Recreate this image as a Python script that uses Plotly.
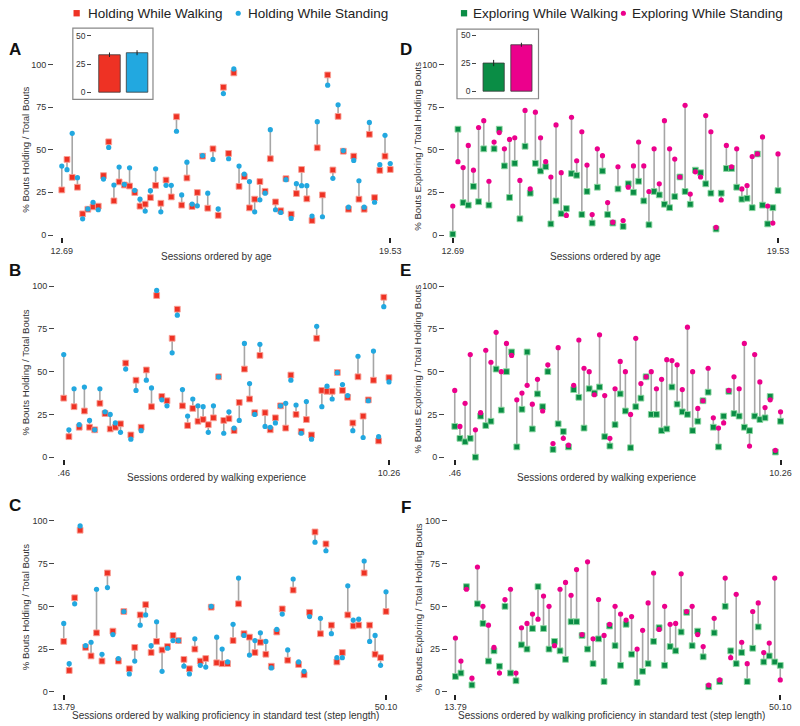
import plotly.graph_objects as go

# ---------------- data ----------------
A_walk = [26.4, 44.3, 33.8, 28.0, 12.4, 15.1, 16.5, 16.9, 34.8, 54.6, 20.0, 31.1, 29.3, 28.7, 24.9, 16.9, 18.1, 21.9, 29.1, 18.6,
          32.2, 22.3, 69.3, 17.5, 33.4, 16.7, 24.9, 46.2, 15.7, 50.5, 11.5, 86.6, 47.8, 95.0, 28.5, 34.2, 15.9, 21.0, 31.3, 25.6,
          44.7, 19.4, 14.2, 33.0, 12.2, 24.3, 38.4, 21.2, 8.5, 51.1, 23.5, 93.8, 38.1, 69.5, 49.1, 15.1, 46.2, 21.0, 15.1, 59.0,
          21.9, 37.9, 46.2, 38.4]
A_stand = [40.4, 38.3, 59.6, 33.6, 9.5, 15.3, 19.2, 14.8, 32.8, 51.3, 29.3, 39.8, 29.7, 39.4, 26.2, 21.0, 14.0, 26.0, 38.8, 13.6,
           29.1, 29.1, 60.8, 23.5, 42.7, 18.1, 17.1, 46.6, 24.5, 44.3, 15.3, 82.9, 44.7, 97.3, 40.4, 35.7, 31.3, 13.6, 20.6, 24.5,
           61.7, 14.8, 13.2, 32.4, 9.7, 30.1, 28.9, 28.9, 11.1, 66.4, 10.7, 87.8, 33.2, 76.3, 49.5, 16.3, 43.7, 31.8, 16.3, 66.0,
           19.2, 41.2, 58.4, 41.9]

B_walk = [34.5, 12, 29.5, 17.5, 27, 17.5, 16, 31.5, 25.5, 16.5, 17.5, 19.5, 55, 13, 45, 17.5, 51, 29.5, 94.5, 35.5,
          33, 69.5, 86.5, 30, 18.5, 28.5, 21, 22, 19, 23, 47, 21.5, 22.5, 15.5, 32, 51.5, 34, 26, 59.5, 26,
          16, 23, 30, 17, 48, 25, 15, 22, 13, 69.5, 39, 38.5, 38.5, 49.5, 39, 35, 20, 47, 24, 33.5,
          45, 9.5, 93.5, 46.5]
B_stand = [60, 16, 40, 19, 41, 21.5, 16, 40, 26.5, 25, 20, 14.5, 51.5, 10.5, 39, 15.5, 45, 40.5, 97.5, 33.5,
           30, 61, 83, 39.5, 24, 34, 30, 29.5, 14.5, 30, 47, 14, 26.5, 17, 21.5, 66.5, 43, 25, 66, 18,
           17.5, 20, 30, 31.5, 45, 30.5, 14, 32.5, 10.5, 76.5, 29.5, 41.5, 34, 49.5, 42.5, 36, 15.5, 59, 11.5, 33,
           62, 12, 88, 44]

C_walk = [29.5, 12.5, 55, 94.5, 26, 21, 34.5, 18, 69.5, 35.5, 18, 47, 13.5, 26, 45, 51, 23, 29.5, 24.5, 26.5,
          33, 30, 19, 13.5, 25, 18, 19.5, 49.5, 17, 16.5, 16.5, 30, 51.5, 34, 32, 23, 29, 22, 15, 35,
          48.5, 18.5, 59.5, 16, 10, 46.5, 93.5, 34, 86.5, 39, 17.5, 23, 45, 38.5, 39, 69.5, 39, 22, 20, 47]
C_stand = [40, 16.5, 51.5, 97, 27, 29, 60, 22, 61, 33.5, 19.5, 47, 10.5, 18, 39, 45, 27, 41, 12, 25.5,
           30, 30, 15, 10.5, 31, 15.5, 14.5, 50, 32, 25, 17.5, 39.5, 66.5, 33, 21.5, 30, 34.5, 29.5, 14, 36.5,
           45.5, 24.5, 66, 17.5, 12, 44, 87.5, 43, 82.5, 34, 20, 20, 62, 42, 42.5, 76.5, 29.5, 33, 15.5, 58.5]

D_walk = [0.5, 62, 19, 17.5, 28.5, 19.5, 50.5, 17.5, 50.5, 62, 40.5, 22, 42, 9.5, 52, 24.5, 42, 37.5, 40, 6.5,
          20, 12.5, 15.5, 36, 35, 12, 25.5, 7, 28, 37.5, 12, 7, 27, 5, 30, 25, 31.5, 20, 6, 25.5,
          23.5, 18, 16, 22.5, 34, 25.5, 18, 38, 36.5, 30, 24.5, 3.5, 24.5, 39, 39, 28, 21, 21.5, 16, 47.5,
          17.5, 6.5, 16, 26]
D_stand = [17, 43, 39.5, 52.5, 38, 63, 67, 31.5, 54.5, 60, 50.5, 56, 57, 32, 73, 27, 72, 57, 43, 34,
           64.5, 36.5, 11.5, 69, 43.5, 60.5, 41, 12, 50.5, 46.5, 19, 7.5, 40, 8.5, 28, 40.5, 54.5, 40.5, 25.5, 50.5,
           30, 67, 50.5, 44.5, 34, 76, 24, 37, 34, 70, 60.5, 4.5, 20.5, 52.5, 40, 50.5, 27, 29, 46, 47.5,
           57.5, 17, 7, 47.5]

E_walk = [18, 11, 9, 11, 0, 24, 18.5, 21, 51.5, 27.5, 50, 61.5, 6, 28, 61.5, 16.5, 37, 29.5, 50, 4.5,
          19.5, 15, 6, 39.5, 35, 17, 40, 37.5, 41, 12, 6.5, 19, 37, 27, 5.5, 29.5, 34.5, 47, 25, 25,
          15.5, 16.5, 41, 31, 26.5, 25, 15.5, 21, 33, 38, 17.5, 6, 24, 38.5, 25.5, 24, 17.5, 15.5, 24, 22,
          23, 35.5, 3, 21]
E_stand = [39, 18, 31.5, 60, 16, 26, 62.5, 55.5, 73, 50, 66.5, 59.5, 33.5, 37.5, 42, 31, 45.5, 27, 54, 8,
           64, 11, 7, 42, 68.5, 52, 50, 36.5, 71.5, 36, 11, 40, 56, 50, 25, 69.5, 43, 47, 50, 40,
           45.5, 57, 56.5, 54, 39.5, 76, 50, 28.5, 33, 52, 23, 17, 20, 39, 47, 40, 66.5, 6.5, 60, 44,
           29, 33.5, 4, 26.5]

F_walk = [9, 11, 61.5, 4, 51.5, 40, 18, 24, 15, 50, 11, 6.5, 27.5, 25, 37, 61.5, 37, 25, 29.5, 24,
          19, 41, 41, 33, 25, 16.5, 31, 6, 38.5, 27, 15.5, 39.5, 22, 5.5, 12, 16.5, 29.5, 37.5, 15.5, 26.5,
          24, 35, 46.5, 27, 35.5, 20.5, 3, 34.5, 6, 50, 24, 16.5, 23, 6, 25.5, 38, 17.5, 21, 17.5, 15.5]
F_stand = [31.5, 18, 60, 8, 73, 50, 39, 26, 11, 54, 60, 11, 37.5, 40, 45.5, 42.5, 56, 50, 27, 60,
           64, 56.5, 71.5, 33.5, 76, 31, 54, 33, 39.5, 50, 45.5, 42, 44, 25, 36, 52, 69.5, 36.5, 50, 39.5,
           40, 69, 47, 50, 33.5, 26.5, 4, 43, 7, 66.5, 20, 57, 29, 16.5, 47, 52, 23, 28.5, 66.5, 7]

hold_labels = ["Holding While Walking", "Holding While Standing"]
hold_means = [33.2, 35.0]
hold_err = [2.0, 2.2]
expl_labels = ["Exploring While Walking", "Exploring While Standing"]
expl_means = [25.1, 41.4]
expl_err = [2.8, 1.8]

age_ticks = ["12.69", "19.53"]
exp_ticks = [".46", "10.26"]
step_ticks = ["13.79", "50.10"]
y_ticks = [0, 25, 50, 75, 100]
inset_ticks = [0, 25, 50]

title_age = "Sessions ordered by age"
title_exp = "Sessions ordered by walking experience"
title_step = "Sessions ordered by walking proficiency in standard test (step length)"
ytitle_hold = "% Bouts Holding / Total Bouts"
ytitle_expl = "% Bouts Exploring / Total Holding Bouts"

# ---------------- style ----------------
W, H = 800, 726
FONT = "Liberation Sans, Arial, Helvetica, sans-serif"
RED, RED_H = "#EE3224", "rgba(248,160,150,0.9)"
BLUE = "#22A8E0"
GREEN, GREEN_H = "#0A8D45", "rgba(140,215,160,0.9)"
PINK = "#EC008C"
TXT = "#333333"


def fx(p):
    return p / W


def fy(p):
    return 1 - p / H


fig = go.Figure()

panels = [
    # letter, walk, stand, wcol, whalo, scol, first_px, last_px, zero_py, hundred_py, yaxis_px, ticks, xtitle, xt_pos, ytitle, yt_pos, letter_pos
    ("A", A_walk, A_stand, RED, RED_H, BLUE, 54, 390, 235.3, 63.7, 45, age_ticks, title_age, (212, 257), ytitle_hold, (17, 150), (6, 49)),
    ("B", B_walk, B_stand, RED, RED_H, BLUE, 56, 388.7, 458.7, 286.7, 46, exp_ticks, title_exp, (212, 479), ytitle_hold, (17, 374), (6, 271)),
    ("C", C_walk, C_stand, RED, RED_H, BLUE, 56, 385.7, 694.7, 522.7, 46.5, step_ticks, title_step, (221, 718), ytitle_hold, (17, 610), (6, 507)),
    ("D", D_walk, D_stand, GREEN, GREEN_H, PINK, 454, 786.7, 235.3, 63.7, 445, age_ticks, title_age, (610, 257), ytitle_expl, (418, 146), (406, 49)),
    ("E", E_walk, E_stand, GREEN, GREEN_H, PINK, 456, 789.3, 458.7, 286.7, 445, exp_ticks, title_exp, (611, 479), ytitle_expl, (418, 370), (406, 271)),
    ("F", F_walk, F_stand, GREEN, GREEN_H, PINK, 456.7, 789, 694.7, 522.7, 448, step_ticks, title_step, (616, 718), ytitle_expl, (419, 610), (406, 509)),
]

annotations = []
layout_axes = {}

for i, (letter, walk, stand, wcol, whalo, scol, x1, x2, y0p, y100p, yax_px, tks, xtitle, xtp,
        ytitle, ytp, lp) in enumerate(panels, start=1):
    n = len(walk)
    sx = "" if i == 1 else str(i)
    xref, yref = "x" + sx, "y" + sx
    per_x = (x2 - x1) / (n - 1)
    left, right = x1 - 0.5 * per_x, x2 + 0.5 * per_x
    per_y = (y0p - y100p) / 100.0
    bot, top = y0p + 1 * per_y, y100p - 2 * per_y

    xs, ys = [], []
    for k, (w, s) in enumerate(zip(walk, stand), start=1):
        xs += [k, k, None]
        ys += [w, s, None]
    idx = list(range(1, n + 1))
    fig.add_trace(go.Scatter(x=xs, y=ys, mode="lines", line=dict(color="#A6A6A6", width=1.6),
                             hoverinfo="skip", xaxis=xref, yaxis=yref, cliponaxis=False))
    fig.add_trace(go.Scatter(x=idx, y=walk, mode="markers",
                             marker=dict(symbol="square", size=5.8, color=wcol, line=dict(color=whalo, width=1)),
                             xaxis=xref, yaxis=yref, cliponaxis=False))
    fig.add_trace(go.Scatter(x=idx, y=stand, mode="markers",
                             marker=dict(symbol="circle", size=5.2, color=scol, line=dict(width=0)),
                             xaxis=xref, yaxis=yref, cliponaxis=False))

    layout_axes["xaxis" + sx] = dict(domain=[fx(left), fx(right)], range=[0.5, n + 0.5], anchor=yref,
                                     tickvals=[1, n], ticktext=tks, ticks="outside", ticklen=5, tickwidth=1.5,
                                     tickcolor="#222", showgrid=False, zeroline=False, showline=False,
                                     tickfont=dict(size=9, color=TXT, family=FONT))
    layout_axes["yaxis" + sx] = dict(domain=[fy(bot), fy(top)], range=[-1, 102], anchor="free", position=fx(yax_px),
                                     tickvals=y_ticks, ticks="outside", ticklen=5, tickwidth=1, tickcolor="#444",
                                     showgrid=False, zeroline=False, showline=False,
                                     tickfont=dict(size=9, color=TXT, family=FONT))
    annotations.append(dict(text=xtitle, x=fx(xtp[0]), y=fy(xtp[1]), xref="paper", yref="paper",
                            xanchor="center", yanchor="middle", showarrow=False, borderpad=0,
                            font=dict(size=10, color=TXT, family=FONT)))
    annotations.append(dict(text=ytitle, x=fx(ytp[0]), y=fy(ytp[1]), xref="paper", yref="paper",
                            xanchor="center", yanchor="middle", showarrow=False, textangle=-90,
                            font=dict(size=9.6, color=TXT, family=FONT)))
    annotations.append(dict(text="<b>" + letter + "</b>", x=fx(lp[0]), y=fy(lp[1]), xref="paper", yref="paper",
                            xanchor="center", yanchor="middle", showarrow=False,
                            font=dict(size=17, color="#111", family=FONT)))

# ---------------- insets ----------------
insets = [
    # axis idx, labels, means, errs, colors, box px, zero_py, fifty_py, yaxis_px, centers, bar width px
    (7, hold_labels, hold_means, hold_err, [RED, BLUE], (65.3, 27.3, 147.3, 99.0), 91.7, 35.0, 84, (102.8, 131.0), 22),
    (8, expl_labels, expl_means, expl_err, [GREEN, PINK], (458.3, 28.3, 541.7, 98.3), 90.7, 34.3, 478, (495.8, 524.2), 21.7),
]
shapes = []
for ai, labels, means, errs, cols, box, z0, z50, yax_px, centers, bw in insets:
    sp = centers[1] - centers[0]
    per = (z0 - z50) / 50.0
    bot, top = z0 + 6.5 * per, z50 - 6 * per
    fig.add_trace(go.Bar(x=[0, 1], y=means, width=bw / sp, marker=dict(color=cols, line=dict(color="#3a3a3a", width=0.8)),
                         error_y=dict(type="data", array=errs, color="#222", thickness=1, width=0),
                         hovertext=labels, xaxis="x%d" % ai, yaxis="y%d" % ai))
    layout_axes["xaxis%d" % ai] = dict(domain=[fx(centers[0] - sp / 2), fx(centers[1] + sp / 2)], range=[-0.5, 1.5],
                                       anchor="y%d" % ai, showticklabels=False, ticks="", showgrid=False,
                                       zeroline=False, showline=False)
    layout_axes["yaxis%d" % ai] = dict(domain=[fy(bot), fy(top)], range=[-6.5, 56], anchor="free", position=fx(yax_px),
                                       tickvals=inset_ticks, ticks="outside", ticklen=4, tickwidth=1, tickcolor="#444",
                                       showgrid=False, zeroline=False, showline=False,
                                       tickfont=dict(size=8.5, color=TXT, family=FONT))
    shapes.append(dict(type="rect", xref="paper", yref="paper", x0=fx(box[0]), x1=fx(box[2]),
                       y0=fy(box[3]), y1=fy(box[1]), line=dict(color="#888", width=1.2), fillcolor="rgba(0,0,0,0)"))

# ---------------- legends ----------------
legend_items = [
    ("square", RED, 69.2, 78.5, hold_labels[0]),
    ("circle", BLUE, 234.5, 242, hold_labels[1]),
    ("square", GREEN, 465.5, 472.5, expl_labels[0]),
    ("circle", PINK, 628.5, 635.5, expl_labels[1]),
]
LY = 12.3
for kind, col, cx, tx, lab in legend_items:
    r = 3.2 if kind == "square" else 2.6
    shapes.append(dict(type="rect" if kind == "square" else "circle", xref="paper", yref="paper",
                       x0=fx(cx - r), x1=fx(cx + r), y0=fy(LY + r), y1=fy(LY - r),
                       fillcolor=col, line=dict(width=0)))
    annotations.append(dict(text=lab, x=fx(tx), y=fy(LY + 0.5), xref="paper", yref="paper", xanchor="left",
                            yanchor="middle", showarrow=False, font=dict(size=13.5, color="#222", family=FONT)))

fig.update_layout(width=W, height=H, margin=dict(l=0, r=0, t=0, b=0), showlegend=False,
                  paper_bgcolor="white", plot_bgcolor="white", font=dict(family=FONT, color=TXT),
                  annotations=annotations, shapes=shapes, **layout_axes)

# remove the browser's default 8px body margin so the 800x726 figure fills the window exactly
fig.write_html("out.html", config={"displayModeBar": False},
               post_script="document.body.style.margin='0';document.body.style.overflow='hidden';")
